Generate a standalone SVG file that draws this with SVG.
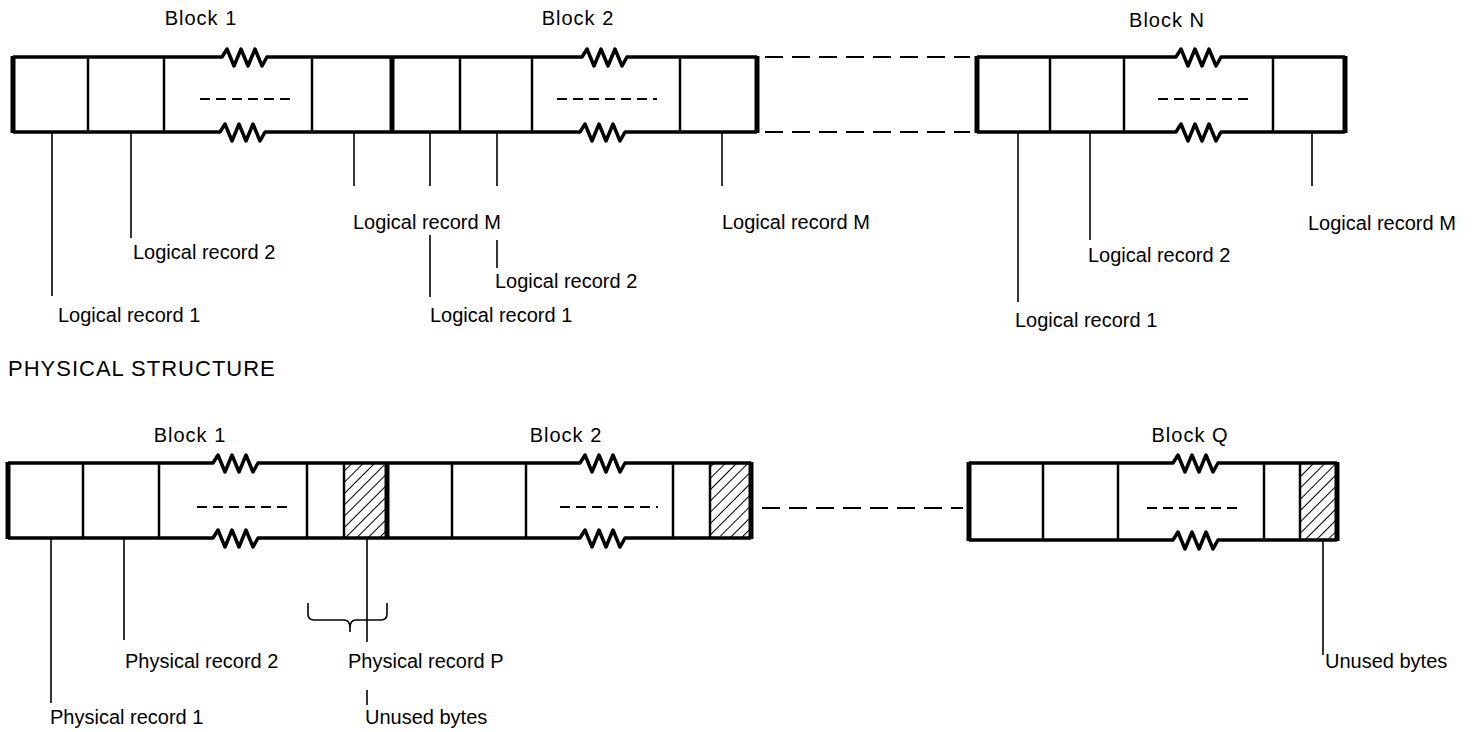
<svg xmlns="http://www.w3.org/2000/svg" width="1483" height="732" viewBox="0 0 1483 732">
<defs>
<pattern id="hatch" patternUnits="userSpaceOnUse" width="8" height="8" patternTransform="rotate(45)">
<line x1="0" y1="0" x2="0" y2="8" stroke="#000" stroke-width="2"/>
</pattern>
<style>
.t{font-family:"Liberation Sans",Arial,sans-serif;font-size:20px;fill:#000}
.ttl{font-family:"Liberation Sans",Arial,sans-serif;font-size:20px;letter-spacing:1px;fill:#000;text-anchor:middle}
.edge{fill:none;stroke:#000;stroke-width:3.5;stroke-linejoin:round}
.end{stroke:#000;stroke-width:5}
.div{stroke:#000;stroke-width:2.5}
.ld{stroke:#000;stroke-width:1.6}
.dash{stroke:#000;stroke-width:2;stroke-dasharray:10 6}
.conn{stroke:#000;stroke-width:2;stroke-dasharray:18 9}
</style>
</defs>
<rect width="1483" height="732" fill="#fff"/>

<!-- TOP: LOGICAL -->
<g id="top-block1">
<text class="ttl" x="201" y="25">Block 1</text>
<path class="edge" d="M13,57 H222 L227,49 L234,66 L241,49 L248,66 L255,49 L262,66 L267,57 H392"/>
<path class="edge" d="M13,132 H220 L225,124 L232,141 L239,124 L246,141 L253,124 L260,141 L265,132 H392"/>
<line class="end" x1="13" y1="56" x2="13" y2="133"/>
<line class="div" x1="88" y1="57" x2="88" y2="132"/>
<line class="div" x1="164" y1="57" x2="164" y2="132"/>
<line class="div" x1="312" y1="57" x2="312" y2="132"/>
<line class="dash" x1="200" y1="99" x2="290" y2="99"/>
</g>
<g id="top-block2">
<text class="ttl" x="578" y="25">Block 2</text>
<path class="edge" d="M392,57 H582 L587,49 L594,66 L601,49 L608,66 L615,49 L622,66 L627,57 H757"/>
<path class="edge" d="M392,132 H580 L585,124 L592,141 L599,124 L606,141 L613,124 L620,141 L625,132 H757"/>
<line class="end" x1="392" y1="56" x2="392" y2="133"/>
<line class="end" x1="757" y1="56" x2="757" y2="133"/>
<line class="div" x1="460" y1="57" x2="460" y2="132"/>
<line class="div" x1="532" y1="57" x2="532" y2="132"/>
<line class="div" x1="680" y1="57" x2="680" y2="132"/>
<line class="dash" x1="557" y1="99" x2="657" y2="99"/>
</g>
<g id="top-blockN">
<text class="ttl" x="1167" y="27">Block N</text>
<path class="edge" d="M977,57 H1176 L1181,49 L1188,66 L1195,49 L1202,66 L1209,49 L1216,66 L1221,57 H1345"/>
<path class="edge" d="M977,132 H1176 L1181,124 L1188,141 L1195,124 L1202,141 L1209,124 L1216,141 L1221,132 H1345"/>
<line class="end" x1="977" y1="56" x2="977" y2="133"/>
<line class="end" x1="1345" y1="56" x2="1345" y2="133"/>
<line class="div" x1="1050" y1="57" x2="1050" y2="132"/>
<line class="div" x1="1124" y1="57" x2="1124" y2="132"/>
<line class="div" x1="1273" y1="57" x2="1273" y2="132"/>
<line class="dash" x1="1158" y1="99" x2="1250" y2="99"/>
</g>

<g id="connectors">
<line class="conn" x1="765" y1="57" x2="970" y2="57"/>
<line class="conn" x1="765" y1="132" x2="970" y2="132"/>
<line class="conn" x1="762" y1="508" x2="963" y2="508"/>
<!-- top leaders -->
<line class="ld" x1="52" y1="132" x2="52" y2="296"/>
<line class="ld" x1="131" y1="132" x2="131" y2="238"/>
<line class="ld" x1="354" y1="132" x2="354" y2="186"/>
<line class="ld" x1="430" y1="132" x2="430" y2="186"/>
<line class="ld" x1="430" y1="235" x2="430" y2="297"/>
<line class="ld" x1="497" y1="132" x2="497" y2="186"/>
<line class="ld" x1="497" y1="240" x2="497" y2="268"/>
<line class="ld" x1="722" y1="132" x2="722" y2="186"/>
<line class="ld" x1="1018" y1="132" x2="1018" y2="302"/>
<line class="ld" x1="1090" y1="132" x2="1090" y2="240"/>
<line class="ld" x1="1312" y1="132" x2="1312" y2="186"/>
<!-- bottom leaders -->
<line class="ld" x1="51" y1="538" x2="51" y2="703"/>
<line class="ld" x1="124" y1="538" x2="124" y2="640"/>
<line class="ld" x1="367" y1="538" x2="367" y2="642"/>
<line class="ld" x1="367" y1="690" x2="367" y2="705"/>
<line class="ld" x1="1323" y1="540" x2="1323" y2="655"/>
<path class="ld" fill="none" d="M308,603 V614 Q308,620 314,620 H344 Q350,620 350,628 V632 M350,632 V628 Q350,620 356,620 H381 Q387,620 387,614 V603"/>
</g>

<g id="labels-top">
<text class="t" x="353" y="229">Logical record M</text>
<text class="t" x="722" y="229">Logical record M</text>
<text class="t" x="1308" y="230">Logical record M</text>
<text class="t" x="133" y="259">Logical record 2</text>
<text class="t" x="495" y="288">Logical record 2</text>
<text class="t" x="1088" y="262">Logical record 2</text>
<text class="t" x="58" y="322">Logical record 1</text>
<text class="t" x="430" y="322">Logical record 1</text>
<text class="t" x="1015" y="327">Logical record 1</text>
</g>

<text id="section-title" x="8" y="376" style="font-family:'Liberation Sans',Arial,sans-serif;font-size:22px;letter-spacing:1px">PHYSICAL  STRUCTURE</text>

<!-- BOTTOM: PHYSICAL -->
<g id="bot-block1">
<text class="ttl" x="190" y="442">Block 1</text>
<rect x="344" y="463" width="43" height="75" fill="url(#hatch)"/>
<path class="edge" d="M8,463 H213 L218,455 L225,472 L232,455 L239,472 L246,455 L253,472 L258,463 H387"/>
<path class="edge" d="M8,538 H213 L218,530 L225,547 L232,530 L239,547 L246,530 L253,547 L258,538 H387"/>
<line class="end" x1="8" y1="462" x2="8" y2="539"/>
<line class="div" x1="83" y1="463" x2="83" y2="538"/>
<line class="div" x1="159" y1="463" x2="159" y2="538"/>
<line class="div" x1="307" y1="463" x2="307" y2="538"/>
<line class="div" x1="344" y1="463" x2="344" y2="538"/>
<line class="dash" x1="197" y1="507" x2="289" y2="507"/>
</g>
<g id="bot-block2">
<text class="ttl" x="566" y="442">Block 2</text>
<rect x="710" y="463" width="41" height="75" fill="url(#hatch)"/>
<path class="edge" d="M387,463 H580 L585,455 L592,472 L599,455 L606,472 L613,455 L620,472 L625,463 H751"/>
<path class="edge" d="M387,538 H580 L585,530 L592,547 L599,530 L606,547 L613,530 L620,547 L625,538 H751"/>
<line class="end" x1="387" y1="462" x2="387" y2="539"/>
<line class="end" x1="751" y1="462" x2="751" y2="539"/>
<line class="div" x1="452" y1="463" x2="452" y2="538"/>
<line class="div" x1="526" y1="463" x2="526" y2="538"/>
<line class="div" x1="673" y1="463" x2="673" y2="538"/>
<line class="div" x1="710" y1="463" x2="710" y2="538"/>
<line class="dash" x1="560" y1="507" x2="658" y2="507"/>
</g>
<g id="bot-blockQ">
<text class="ttl" x="1190" y="442">Block Q</text>
<rect x="1300" y="463" width="37" height="77" fill="url(#hatch)"/>
<path class="edge" d="M969,463 H1173 L1178,455 L1185,472 L1192,455 L1199,472 L1206,455 L1213,472 L1218,463 H1337"/>
<path class="edge" d="M969,540 H1173 L1178,532 L1185,549 L1192,532 L1199,549 L1206,532 L1213,549 L1218,540 H1337"/>
<line class="end" x1="969" y1="462" x2="969" y2="541"/>
<line class="end" x1="1337" y1="462" x2="1337" y2="541"/>
<line class="div" x1="1043" y1="463" x2="1043" y2="540"/>
<line class="div" x1="1118" y1="463" x2="1118" y2="540"/>
<line class="div" x1="1264" y1="463" x2="1264" y2="540"/>
<line class="div" x1="1300" y1="463" x2="1300" y2="540"/>
<line class="dash" x1="1147" y1="508" x2="1242" y2="508"/>
</g>

<g id="labels-bottom">
<text class="t" x="125" y="668">Physical record 2</text>
<text class="t" x="348" y="668">Physical record P</text>
<text class="t" x="50" y="724">Physical record 1</text>
<text class="t" x="365" y="724">Unused bytes</text>
<text class="t" x="1325" y="668">Unused bytes</text>
</g>
</svg>
